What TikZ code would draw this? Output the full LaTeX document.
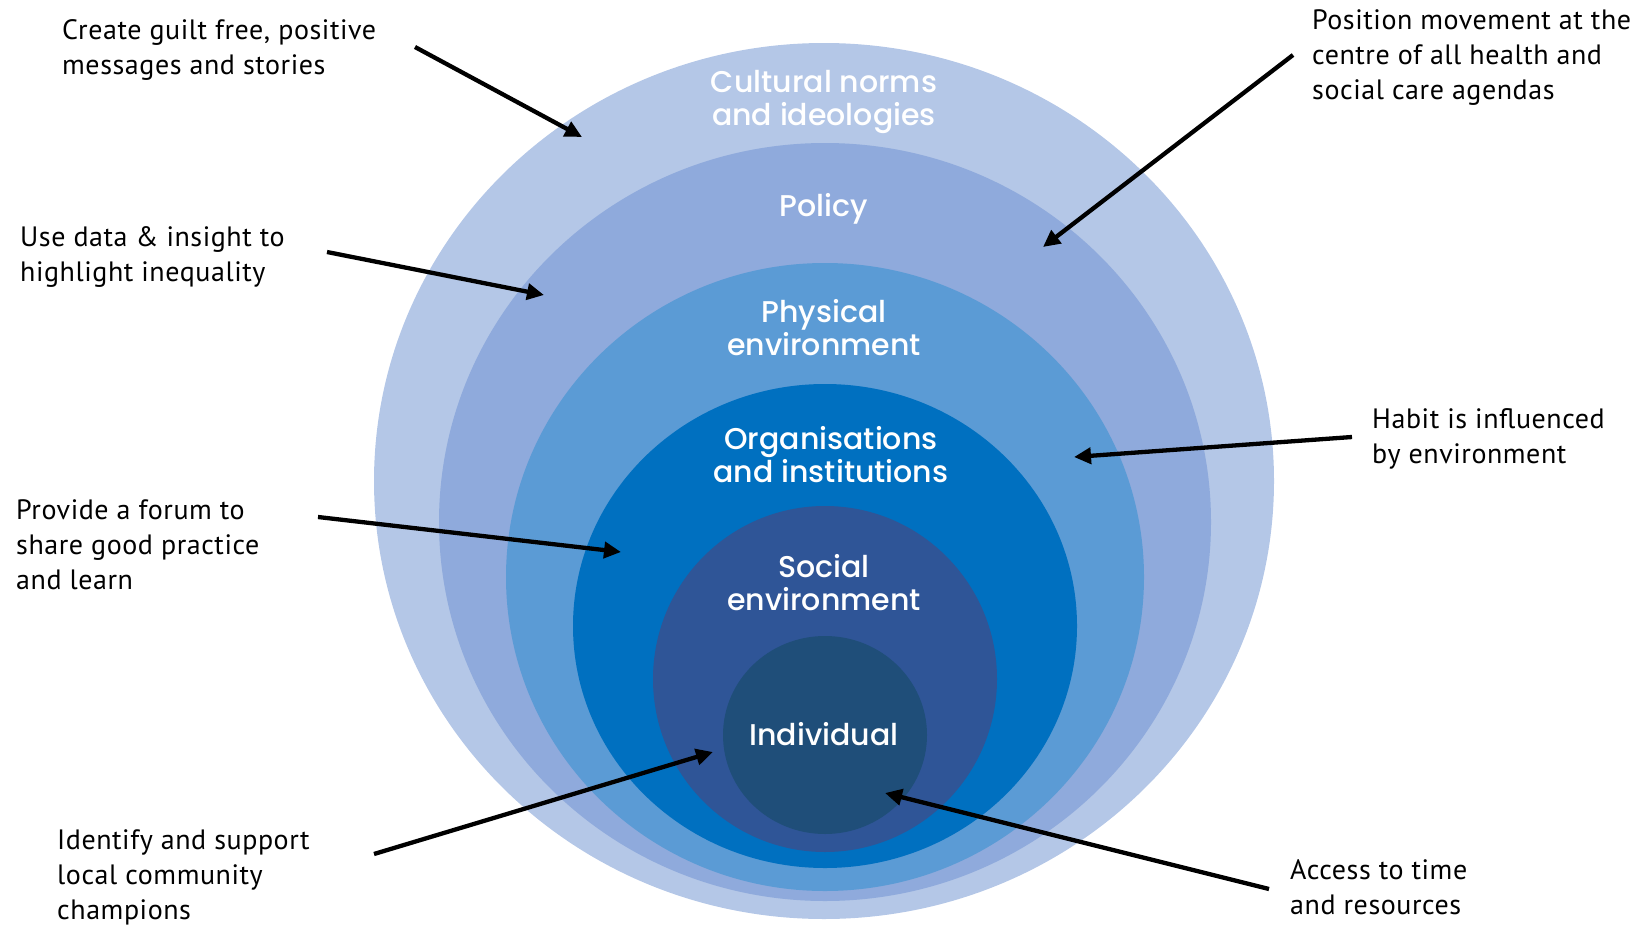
\documentclass[tikz,border=0pt]{standalone}
\usepackage{fontspec}
\setmainfont{PT Sans}[LetterSpace=2]
\newfontfamily\ringfont{Poppins Medium}
\usetikzlibrary{arrows.meta,shapes.geometric}
\definecolor{culturecol}{HTML}{B4C7E7}
\definecolor{policycol}{HTML}{8FAADC}
\definecolor{physicalcol}{HTML}{5B9BD5}
\definecolor{orgcol}{HTML}{0070C0}
\definecolor{socialcol}{HTML}{2F5597}
\definecolor{individualcol}{HTML}{1F4E79}
\tikzstyle{ring}=[ellipse,inner sep=0pt,outer sep=0pt]
\tikzstyle{ringlabel}=[text=white,align=center,inner sep=0pt,font=\ringfont\fontsize{30}{33}\selectfont]
\tikzstyle{note}=[anchor=north west,align=left,inner sep=0pt,font=\fontsize{28}{35}\selectfont]
\tikzstyle{pointer}=[->,line width=4.3pt]

\begin{document}
\begin{tikzpicture}[x=1pt,y=-1pt,>={Triangle[length=17pt,width=16pt]}]
  \useasboundingbox (0,0) rectangle (1640,926);

  % rings, outside in
  \node[ring,fill=culturecol,minimum width=900pt,minimum height=876pt]    (culture) at (824,481) {};
  \node[ring,fill=policycol,minimum width=772pt,minimum height=758pt]     (policy) at (825,522) {};
  \node[ring,fill=physicalcol,minimum width=638pt,minimum height=628pt]   (physical) at (825,577) {};
  \node[ring,fill=orgcol,minimum width=504pt,minimum height=484pt]        (org) at (825,626) {};
  \node[ring,fill=socialcol,minimum width=344pt,minimum height=346pt]     (social) at (825,679) {};
  \node[ring,fill=individualcol,minimum width=204pt,minimum height=198pt] (individual) at (825,735) {};

  % ring labels
  \node[ringlabel] (cultureText) at (824,102)  {Cultural norms\\and ideologies};
  \node[ringlabel] (policyText) at (824,209)  {Policy};
  \node[ringlabel] (physicalText) at (824,328) {Physical\\environment};
  \node[ringlabel] (orgText) at (831,455)    {Organisations\\and institutions};
  \node[ringlabel] (socialText) at (824,583)  {Social\\environment};
  \node[ringlabel] (individualText) at (824,734) {Individual};

  % notes round the rings
  \node[note] (create) at (62,19)    {Create guilt free, positive\\messages and stories};
  \node[note] (usedata) at (20,226)  {Use data \& insight to\\highlight inequality};
  \node[note] (provide) at (16,499)  {Provide a forum to\\share good practice\\and learn};
  \node[note] (identify) at (57,829) {Identify and support\\local community\\champions};
  \node[note] (position) at (1312,9) {Position movement at the\\centre of all health and\\social care agendas};
  \node[note] (habit) at (1372,408)  {Habit is influenced\\by environment};
  \node[note] (access) at (1290,859) {Access to time\\and resources};

  % arrow ends
  \coordinate (createTail) at (415,47);    \coordinate (createTip) at (582,137);
  \coordinate (usedataTail) at (327,252);  \coordinate (usedataTip) at (544,295);
  \coordinate (provideTail) at (318,517);  \coordinate (provideTip) at (621,552);
  \coordinate (identifyTail) at (374,854); \coordinate (identifyTip) at (713,752);
  \coordinate (positionTail) at (1293,55); \coordinate (positionTip) at (1043,247);
  \coordinate (habitTail) at (1352,437);   \coordinate (habitTip) at (1074,457);
  \coordinate (accessTail) at (1269,889);  \coordinate (accessTip) at (885,793);

  \draw[pointer] (createTail) -- (createTip);
  \draw[pointer] (usedataTail) -- (usedataTip);
  \draw[pointer] (provideTail) -- (provideTip);
  \draw[pointer] (identifyTail) -- (identifyTip);
  \draw[pointer] (positionTail) -- (positionTip);
  \draw[pointer] (habitTail) -- (habitTip);
  \draw[pointer] (accessTail) -- (accessTip);
\end{tikzpicture}
\end{document}
